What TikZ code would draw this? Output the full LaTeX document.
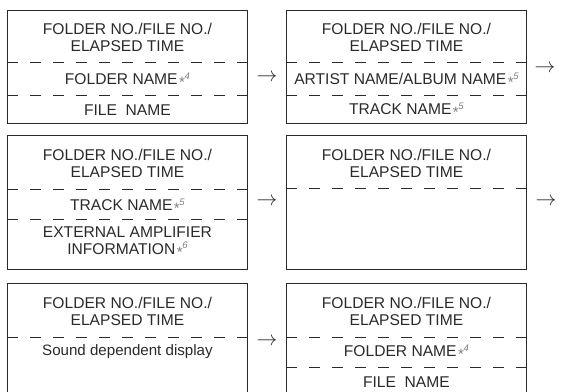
\documentclass[tikz,border=0pt]{standalone}
\usepackage{fontspec}
\setmainfont{Liberation Sans}
\usetikzlibrary{calc}
\definecolor{ink}{HTML}{2A2A2A}
\definecolor{notegray}{HTML}{808080}
\tikzset{
  panel/.style={draw=ink, line width=0.9pt, minimum width=240pt, inner sep=0pt, anchor=north west},
  divider/.style={draw=ink, line width=0.9pt, dash pattern=on 11pt off 12pt},
  label/.style={font=\fontsize{15.6}{17}\selectfont, text=ink, align=center, inner sep=0pt},
  nextarrow/.style={font=\fontsize{20}{20}\selectfont, text=ink, inner sep=0pt}
}
\newcommand{\fnote}[1]{\kern1.5pt{\color{notegray}\raisebox{-2.8pt}{\fontsize{15}{15}\selectfont *}\kern-0.3pt\raisebox{5.5pt}{\fontsize{9.5}{9.5}\selectfont\itshape #1}}}
\begin{document}
\begin{tikzpicture}[x=1pt,y=-1pt]
\useasboundingbox (0,0) rectangle (561,391);
\clip (0,0) rectangle (561,391);
% boxes
\node[panel, minimum height=113pt] (b1) at (7,10) {};
\node[panel, minimum height=113pt] (b2) at (286,10) {};
\node[panel, minimum height=134pt] (b3) at (7,135) {};
\node[panel, minimum height=134pt] (b4) at (286,135) {};
\node[panel, minimum height=140pt] (b5) at (7,283) {};
\node[panel, minimum height=140pt] (b6) at (286,283) {};
% dividers
\draw[divider] (b1.west |- 0,62) -- (b1.east |- 0,62);
\draw[divider] (b1.west |- 0,95) -- (b1.east |- 0,95);
\draw[divider] (b2.west |- 0,62) -- (b2.east |- 0,62);
\draw[divider] (b2.west |- 0,95) -- (b2.east |- 0,95);
\draw[divider] (b3.west |- 0,189) -- (b3.east |- 0,189);
\draw[divider] (b3.west |- 0,219) -- (b3.east |- 0,219);
\draw[divider] (b4.west |- 0,188) -- (b4.east |- 0,188);
\draw[divider] (b5.west |- 0,337) -- (b5.east |- 0,337);
\draw[divider] (b6.west |- 0,337) -- (b6.east |- 0,337);
\draw[divider] (b6.west |- 0,367) -- (b6.east |- 0,367);
% texts
\node[label] (t1a) at (b1.north |- 0,37) {FOLDER NO./FILE NO./\\ELAPSED TIME};
\node[label] (t1b) at (b1.north |- 0,80) {FOLDER NAME\fnote{4}};
\node[label] (t1c) at (b1.north |- 0,110) {FILE\ \ NAME};
\node[label] (t2a) at (b2.north |- 0,37) {FOLDER NO./FILE NO./\\ELAPSED TIME};
\node[label] (t2b) at (b2.north |- 0,80) {ARTIST NAME/ALBUM NAME\fnote{5}};
\node[label] (t2c) at (b2.north |- 0,110) {TRACK NAME\fnote{5}};
\node[label] (t3a) at (b3.north |- 0,163) {FOLDER NO./FILE NO./\\ELAPSED TIME};
\node[label] (t3b) at (b3.north |- 0,206) {TRACK NAME\fnote{5}};
\node[label] (t3c) at (b3.north |- 0,242) {EXTERNAL AMPLIFIER\\INFORMATION\fnote{6}};
\node[label] (t4a) at (b4.north |- 0,163) {FOLDER NO./FILE NO./\\ELAPSED TIME};
\node[label] (t5a) at (b5.north |- 0,311) {FOLDER NO./FILE NO./\\ELAPSED TIME};
\node[label, font=\fontsize{15.1}{17}\selectfont] (t5b) at (b5.north |- 0,352) {Sound dependent display};
\node[label] (t6a) at (b6.north |- 0,311) {FOLDER NO./FILE NO./\\ELAPSED TIME};
\node[label] (t6b) at (b6.north |- 0,352) {FOLDER NAME\fnote{4}};
\node[label] (t6c) at (b6.north |- 0,382) {FILE\ \ NAME};
% arrows
\node[nextarrow] (a1) at (267,78) {$\rightarrow$};
\node[nextarrow] (a2) at (545,69) {$\rightarrow$};
\node[nextarrow] (a3) at (267,202) {$\rightarrow$};
\node[nextarrow] (a4) at (546,202) {$\rightarrow$};
\node[nextarrow] (a5) at (267,342) {$\rightarrow$};
\end{tikzpicture}
\end{document}
